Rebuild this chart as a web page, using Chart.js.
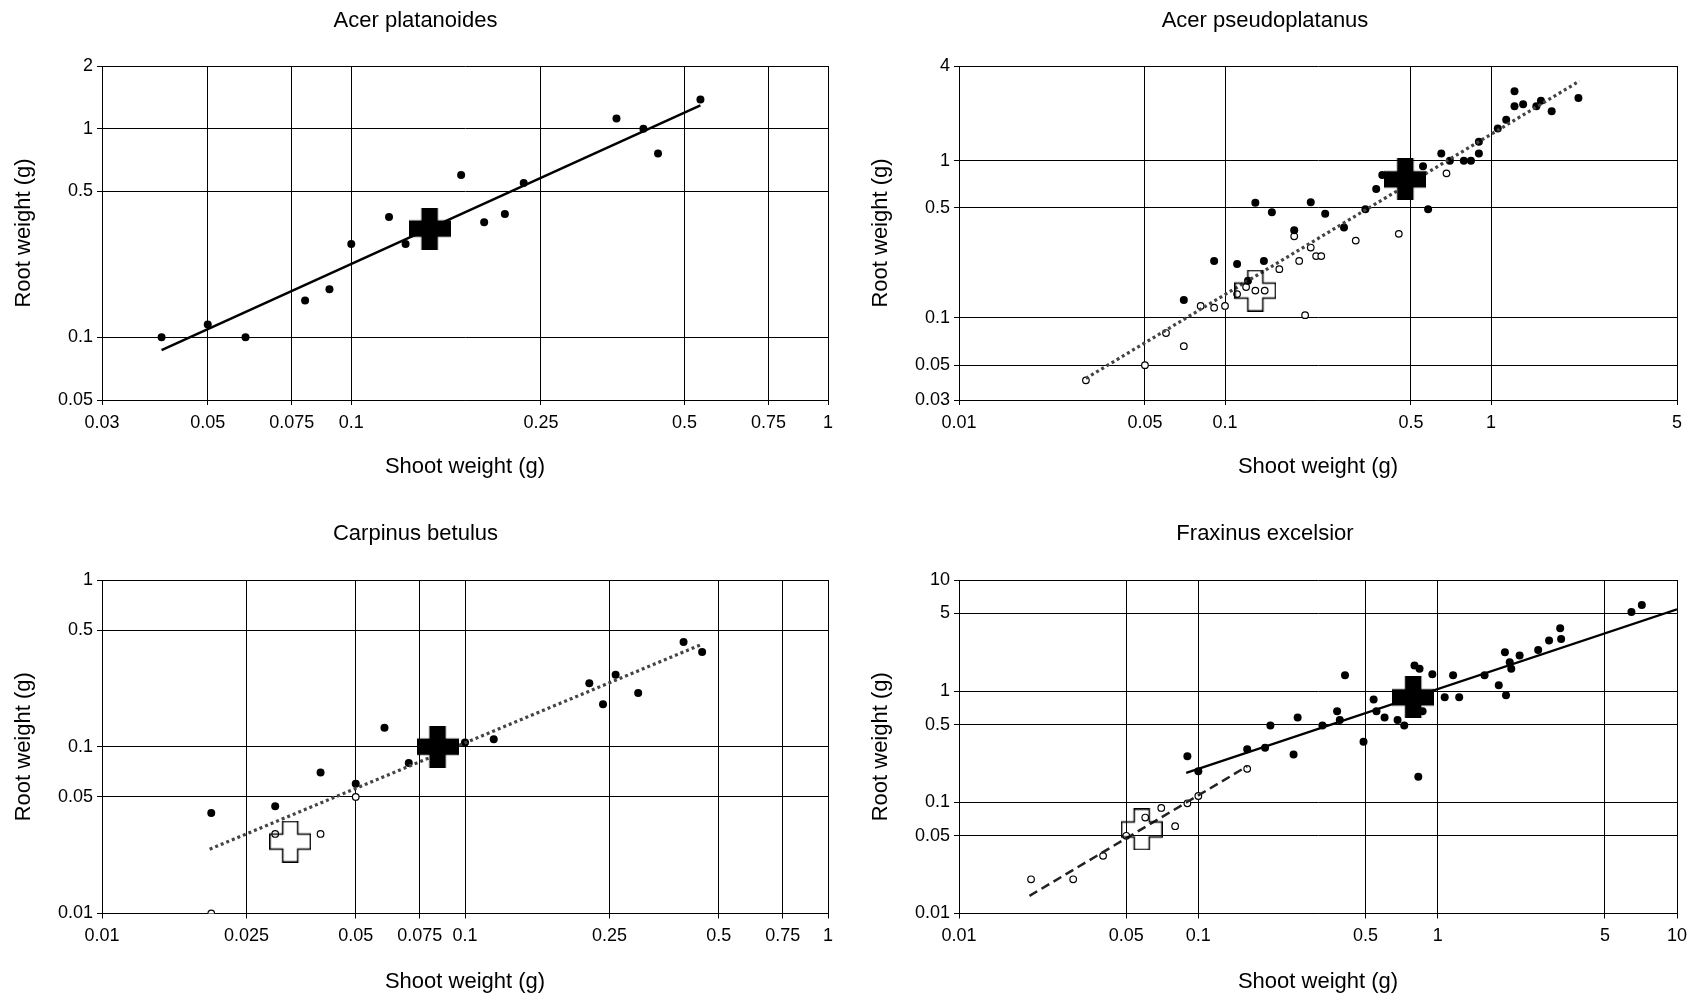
<!DOCTYPE html>
<html>
<head>
<meta charset="utf-8">
<script src="https://cdn.jsdelivr.net/npm/chart.js@4.4.1/dist/chart.umd.min.js"></script>
<style>
body { margin:0; background:#fff; }
canvas { position:absolute; }
</style>
</head>
<body>
<canvas id="c1" width="850" height="498" style="left:0;top:0"></canvas>
<canvas id="c2" width="849" height="498" style="left:850px;top:0"></canvas>
<canvas id="c3" width="850" height="499" style="left:0;top:498px"></canvas>
<canvas id="c4" width="849" height="499" style="left:850px;top:498px"></canvas>
<script>
// Acer platanoides
var apTicksX = [0.03, 0.05, 0.075, 0.1, 0.25, 0.5, 0.75, 1];
var apTicksY = [0.05, 0.1, 0.5, 1, 2];
var apFillX = [0.04, 0.05, 0.06, 0.08, 0.09, 0.1, 0.12, 0.13, 0.17, 0.19, 0.21, 0.23, 0.36, 0.41, 0.44, 0.54];
var apFillY = [0.1, 0.115, 0.1, 0.15, 0.17, 0.28, 0.377, 0.28, 0.6, 0.356, 0.39, 0.55, 1.12, 1.0, 0.76, 1.38];
var apMeanX = [0.146], apMeanY = [0.332];
var apFitX = [0.04, 0.54], apFitY = [0.0868, 1.296];

// Acer pseudoplatanus
var psTicksX = [0.01, 0.05, 0.1, 0.5, 1, 5];
var psTicksY = [0.03, 0.05, 0.1, 0.5, 1, 4];
var psFillX = [0.07, 0.091, 0.111, 0.14, 0.122, 0.13, 0.15, 0.182, 0.21, 0.238, 0.28, 0.337, 0.37, 0.39, 0.41, 0.555, 0.58, 0.65, 0.70, 0.79, 0.84, 0.90, 0.90, 1.06, 1.14, 1.225, 1.225, 1.32, 1.48, 1.54, 1.69, 2.13];
var psFillY = [0.13, 0.23, 0.22, 0.23, 0.172, 0.54, 0.47, 0.36, 0.544, 0.46, 0.375, 0.49, 0.66, 0.81, 0.80, 0.92, 0.49, 1.11, 1.0, 1.0, 1.0, 1.11, 1.32, 1.6, 1.82, 2.76, 2.22, 2.28, 2.22, 2.4, 2.06, 2.5];
var psOpenX = [0.03, 0.05, 0.06, 0.07, 0.081, 0.091, 0.1, 0.111, 0.12, 0.13, 0.141, 0.16, 0.182, 0.19, 0.21, 0.2, 0.22, 0.23, 0.31, 0.45, 0.68];
var psOpenY = [0.04, 0.05, 0.08, 0.066, 0.119, 0.116, 0.119, 0.1415, 0.157, 0.149, 0.149, 0.204, 0.33, 0.23, 0.28, 0.104, 0.247, 0.247, 0.31, 0.342, 0.83];
var psMeanX = [0.476], psMeanY = [0.76];
var psOpenMeanX = [0.13], psOpenMeanY = [0.149];
var psFitX = [0.03, 2.15], psFitY = [0.0412, 3.21];

// Carpinus betulus
var cbTicksX = [0.01, 0.025, 0.05, 0.075, 0.1, 0.25, 0.5, 0.75, 1];
var cbTicksY = [0.01, 0.05, 0.1, 0.5, 1];
var cbFillX = [0.02, 0.03, 0.04, 0.05, 0.06, 0.07, 0.1, 0.12, 0.22, 0.24, 0.26, 0.30, 0.40, 0.45];
var cbFillY = [0.04, 0.044, 0.07, 0.06, 0.13, 0.08, 0.106, 0.111, 0.24, 0.18, 0.27, 0.21, 0.425, 0.37];
var cbOpenX = [0.02, 0.03, 0.04, 0.05];
var cbOpenY = [0.01, 0.03, 0.03, 0.05];
var cbMeanX = [0.084], cbMeanY = [0.1];
var cbOpenMeanX = [0.033], cbOpenMeanY = [0.027];
var cbFitX = [0.0198, 0.45], cbFitY = [0.0243, 0.412];

// Fraxinus excelsior
var feTicksX = [0.01, 0.05, 0.1, 0.5, 1, 5, 10];
var feTicksY = [0.01, 0.05, 0.1, 0.5, 1, 5, 10];
var feFillX = [0.09, 0.1, 0.16, 0.19, 0.2, 0.25, 0.26, 0.33, 0.38, 0.39, 0.41, 0.49, 0.54, 0.555, 0.60, 0.68, 0.725, 0.80, 0.84, 0.83, 0.865, 0.95, 1.07, 1.16, 1.23, 1.57, 1.8, 1.91, 1.93, 2.0, 2.03, 2.2, 2.63, 2.92, 3.25, 3.28, 6.45, 7.13];
var feFillY = [0.26, 0.19, 0.30, 0.31, 0.49, 0.27, 0.58, 0.49, 0.66, 0.55, 1.39, 0.35, 0.84, 0.66, 0.58, 0.55, 0.49, 1.7, 1.59, 0.17, 0.66, 1.42, 0.88, 1.39, 0.88, 1.39, 1.13, 2.24, 0.92, 1.82, 1.59, 2.09, 2.34, 2.86, 3.68, 2.95, 5.16, 5.97];
var feOpenX = [0.02, 0.03, 0.04, 0.05, 0.06, 0.07, 0.08, 0.09, 0.1, 0.16];
var feOpenY = [0.0203, 0.0203, 0.033, 0.05, 0.073, 0.089, 0.061, 0.098, 0.114, 0.2];
var feMeanX = [0.79], feMeanY = [0.88];
var feOpenMeanX = [0.058], feOpenMeanY = [0.057];
var feFitX = [0.089, 10], feFitY = [0.184, 5.455];
var feOpenFitX = [0.0197, 0.16], feOpenFitY = [0.0144, 0.211];

Chart.defaults.font.family = '"Liberation Sans", Arial, sans-serif';
Chart.defaults.color = '#000';

function pts(xs, ys) {
    return xs.map(function(x, i){ return {x: x, y: ys[i]}; });
}

// plus-shaped marker for the group means
function crossImg(filled) {
    var s = 42, a = 15, m = 0.75;
    var c = document.createElement('canvas');
    c.width = s; c.height = s;
    var g = c.getContext('2d');
    var p1 = (s - a) / 2, p2 = p1 + a, p3 = s - m;
    g.beginPath();
    g.moveTo(p1, m); g.lineTo(p2, m); g.lineTo(p2, p1); g.lineTo(p3, p1);
    g.lineTo(p3, p2); g.lineTo(p2, p2); g.lineTo(p2, p3); g.lineTo(p1, p3);
    g.lineTo(p1, p2); g.lineTo(m, p2); g.lineTo(m, p1); g.lineTo(p1, p1);
    g.closePath();
    if (filled) { g.fillStyle = '#000'; g.fill(); }
    g.strokeStyle = '#000'; g.lineWidth = 1.5; g.stroke();
    return c;
}
var blackCross = crossImg(true), whiteCross = crossImg(false);

function meanSet(xs, ys, filled) {
    return { data: pts(xs, ys), pointStyle: filled ? blackCross : whiteCross, pointRadius: 21 };
}
function fillSet(xs, ys) {
    return { data: pts(xs, ys), pointStyle: 'circle', pointRadius: 4, backgroundColor: '#000', borderWidth: 0 };
}
function openSet(xs, ys) {
    return { data: pts(xs, ys), pointStyle: 'circle', pointRadius: 3.3, backgroundColor: '#fff', borderColor: '#000', borderWidth: 1.2 };
}
function fitSet(xs, ys, color, width, dash) {
    return { data: pts(xs, ys), showLine: true, pointRadius: 0, borderColor: color, borderWidth: width, borderDash: dash, fill: false };
}

function makeChart(id, title, ticksX, ticksY, g, datasets) {
    new Chart(document.getElementById(id), {
        type: 'scatter',
        data: { datasets: datasets },
        options: {
            responsive: false,
            animation: false,
            devicePixelRatio: 1,
            layout: { padding: { left: 0, right: 19, top: 0, bottom: 0 } },
            plugins: {
                legend: { display: false },
                tooltip: { enabled: false },
                title: { display: true, text: title, color: '#000', font: { size: 22, weight: 'normal' }, padding: { top: g.tTop, bottom: g.tBot } }
            },
            scales: {
                x: {
                    type: 'logarithmic',
                    min: ticksX[0], max: ticksX[ticksX.length - 1],
                    afterBuildTicks: function(s){ s.ticks = ticksX.map(function(v){ return {value: v}; }); },
                    afterFit: function(s){ s.height = g.xH; },
                    ticks: { autoSkip: false, maxRotation: 0, font: { size: 18 }, padding: 7, color: '#000',
                        callback: function(v){ return String(v); } },
                    grid: { color: '#000', lineWidth: 1, tickLength: 5 },
                    border: { color: '#000', width: 1 },
                    title: { display: true, text: 'Shoot weight (g)', color: '#000', font: { size: 22 }, padding: { top: 0, bottom: g.xTP } }
                },
                y: {
                    type: 'logarithmic',
                    min: ticksY[0], max: ticksY[ticksY.length - 1],
                    afterBuildTicks: function(s){ s.ticks = ticksY.map(function(v){ return {value: v}; }); },
                    afterFit: function(s){ s.width = g.yW; },
                    ticks: { autoSkip: false, font: { size: 18 }, padding: 4, color: '#000',
                        callback: function(v){ return String(v); } },
                    grid: { color: '#000', lineWidth: 1, tickLength: 5 },
                    border: { color: '#000', width: 1 },
                    title: { display: true, text: 'Root weight (g)', color: '#000', font: { size: 22 }, padding: { top: g.yTP, bottom: 0 } }
                }
            }
        }
    });
}

var topRow = { tTop: 7.4, tBot: 32.2, xH: 98, xTP: 17.8 };
var botRow = { tTop: 22.8, tBot: 32.8, xH: 83.5, xTP: 1.8 };

makeChart('c1', 'Acer platanoides', apTicksX, apTicksY,
    Object.assign({ yW: 102, yTP: 10.8 }, topRow), [
    meanSet(apMeanX, apMeanY, true),
    fitSet(apFitX, apFitY, '#000', 2.5, []),
    fillSet(apFillX, apFillY)
]);

makeChart('c2', 'Acer pseudoplatanus', psTicksX, psTicksY,
    Object.assign({ yW: 109, yTP: 17.8 }, topRow), [
    meanSet(psMeanX, psMeanY, true),
    meanSet(psOpenMeanX, psOpenMeanY, false),
    fitSet(psFitX, psFitY, '#444', 3.2, [3, 3]),
    fillSet(psFillX, psFillY),
    openSet(psOpenX, psOpenY)
]);

makeChart('c3', 'Carpinus betulus', cbTicksX, cbTicksY,
    Object.assign({ yW: 102, yTP: 10.8 }, botRow), [
    meanSet(cbMeanX, cbMeanY, true),
    meanSet(cbOpenMeanX, cbOpenMeanY, false),
    fitSet(cbFitX, cbFitY, '#444', 3.2, [3, 3]),
    fillSet(cbFillX, cbFillY),
    openSet(cbOpenX, cbOpenY)
]);

makeChart('c4', 'Fraxinus excelsior', feTicksX, feTicksY,
    Object.assign({ yW: 109, yTP: 17.8 }, botRow), [
    meanSet(feMeanX, feMeanY, true),
    meanSet(feOpenMeanX, feOpenMeanY, false),
    fitSet(feFitX, feFitY, '#000', 2.2, []),
    fitSet(feOpenFitX, feOpenFitY, '#222', 2.5, [9, 5]),
    fillSet(feFillX, feFillY),
    openSet(feOpenX, feOpenY)
]);
</script>
</body>
</html>
